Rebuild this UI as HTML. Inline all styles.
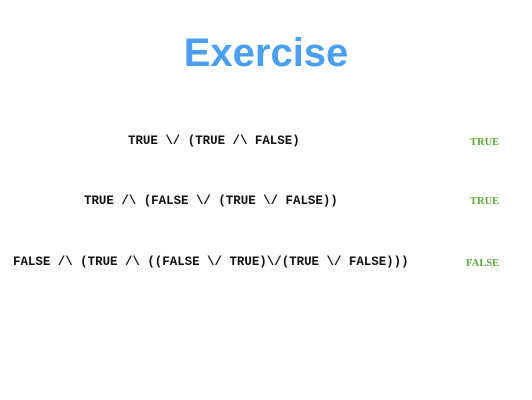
<!DOCTYPE html>
<html><head><style>
body{margin:0;width:532px;height:400px;background:#fff;position:relative;overflow:hidden}
.t{position:absolute;left:0;width:532px;text-align:center;top:31px;font:bold 40px "Liberation Sans",sans-serif;color:#4a9ff0}
.m{position:absolute;font:bold 12.45px "Liberation Mono",monospace;color:#111;white-space:pre;line-height:14px}
.g{position:absolute;font:bold 10.5px "Liberation Serif",serif;color:#5aa83c;line-height:12px}
</style></head><body>
<div class="t">Exercise</div>
<div class="m" style="left:128px;top:134px">TRUE \/ (TRUE /\ FALSE)</div>
<div class="m" style="left:84px;top:194px">TRUE /\ (FALSE \/ (TRUE \/ FALSE))</div>
<div class="m" style="left:13px;top:255px">FALSE /\ (TRUE /\ ((FALSE \/ TRUE)\/(TRUE \/ FALSE)))</div>
<div class="g" style="left:470px;top:137px">TRUE</div>
<div class="g" style="left:470px;top:196px">TRUE</div>
<div class="g" style="left:466px;top:258px">FALSE</div>
</body></html>
